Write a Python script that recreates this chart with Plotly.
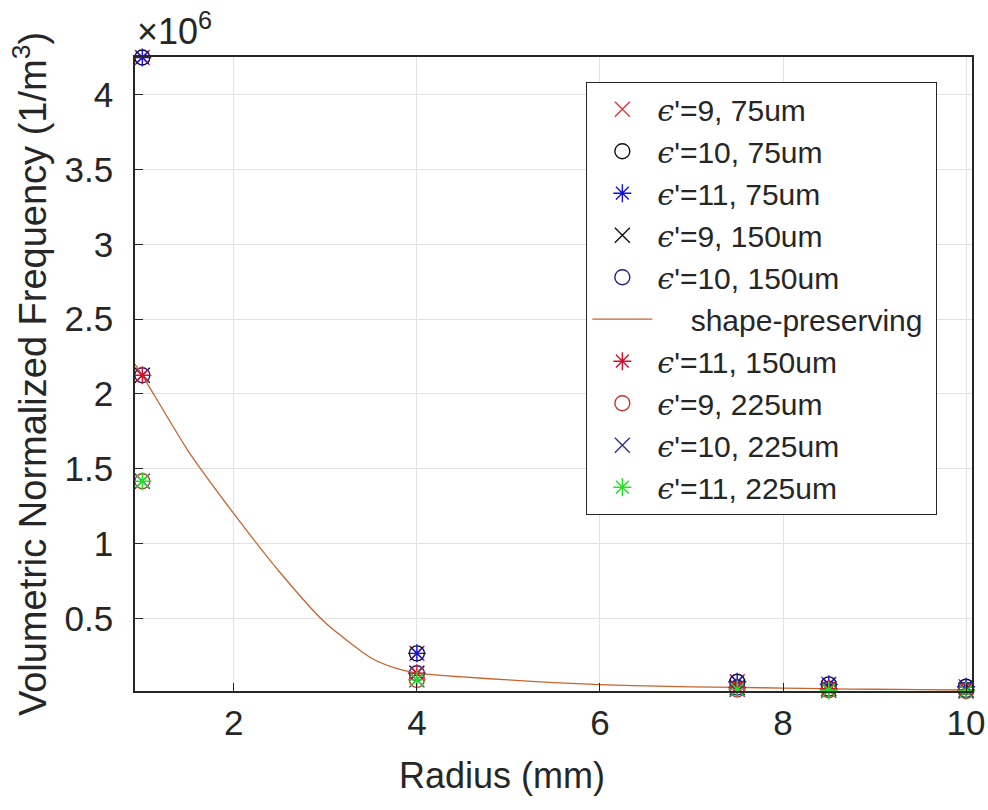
import plotly.graph_objects as go

# ---- data (values in units of 1e6 1/m^3) ----
radius = [1, 4, 7.5, 8.5, 10]

eps9_75 = [4.25, 0.266, 0.0756, 0.0588, 0.0425]
eps10_75 = [4.25, 0.266, 0.0756, 0.0588, 0.0425]
eps11_75 = [4.25, 0.266, 0.0756, 0.0588, 0.0425]
eps9_150 = [2.125, 0.133, 0.0378, 0.0294, 0.0213]
eps10_150 = [2.125, 0.133, 0.0378, 0.0294, 0.0213]
eps11_150 = [2.125, 0.133, 0.0378, 0.0294, 0.0213]
eps9_225 = [1.417, 0.0886, 0.0252, 0.0196, 0.0142]
eps10_225 = [1.417, 0.0886, 0.0252, 0.0196, 0.0142]
eps11_225 = [1.417, 0.0886, 0.0252, 0.0196, 0.0142]

# shape-preserving fit curve
fit_x = [0.92, 1, 1.5, 2, 2.5, 3, 3.5, 3.75, 4, 4.5, 5, 5.5, 6, 6.5, 7, 7.5, 8, 8.5, 9, 9.5, 10]
fit_y = [2.2, 2.125, 1.62, 1.2, 0.81, 0.47, 0.235, 0.17, 0.133, 0.108, 0.088, 0.07, 0.057,
         0.048, 0.042, 0.038, 0.034, 0.029, 0.026, 0.023, 0.021]

x_ticks = [2, 4, 6, 8, 10]
y_ticks = [0.5, 1, 1.5, 2, 2.5, 3, 3.5, 4]

FONT = "Liberation Sans, Arial, Helvetica, sans-serif"
EPS = "<span style='font-family:DejaVu Serif'><i>ϵ</i></span>"


def lab(e, t):
    return f"{EPS}'={e}, {t}um"


series = [
    (lab(9, 75), eps9_75, "x-thin-open", "#e8323c"),
    (lab(10, 75), eps10_75, "circle-open", "#111111"),
    (lab(11, 75), eps11_75, "asterisk-open", "#1010e0"),
    (lab(9, 150), eps9_150, "x-thin-open", "#111111"),
    (lab(10, 150), eps10_150, "circle-open", "#20208c"),
    None,
    (lab(11, 150), eps11_150, "asterisk-open", "#d4102c"),
    (lab(9, 225), eps9_225, "circle-open", "#c83030"),
    (lab(10, 225), eps10_225, "x-thin-open", "#303090"),
    (lab(11, 225), eps11_225, "asterisk-open", "#22e022"),
]

fig = go.Figure()
for s in series:
    if s is None:
        fig.add_trace(go.Scatter(
            x=fit_x, y=fit_y, mode="lines", name="    shape-preserving\u00a0",
            line=dict(color="#c8642e", width=1.3, shape="spline", smoothing=0.6),
        ))
        continue
    name, vals, sym, col = s
    fig.add_trace(go.Scatter(
        x=radius, y=vals, mode="markers", name=name, cliponaxis=False,
        marker=dict(symbol=sym, size=15, color=col, line=dict(color=col, width=1.4)),
    ))

axis_common = dict(
    showline=True, linecolor="#262626", linewidth=1.5, mirror=True,
    ticks="inside", ticklen=8, tickcolor="#262626", tickwidth=1.2,
    showgrid=True, gridcolor="#e2e2e2", gridwidth=1, zeroline=False,
    tickfont=dict(family=FONT, size=35, color="#262626"),
    ticklabeloverflow="allow", automargin=False,
)

fig.update_xaxes(
    range=[0.92, 10.065], tickvals=x_ticks, ticktext=[str(v) for v in x_ticks],
    ticklabelstandoff=0,
    **axis_common,
)
fig.update_yaxes(
    range=[0.0142, 4.253], tickvals=y_ticks, ticktext=[f"{v:g}" for v in y_ticks],
    title=dict(text="Volumetric Normalized Frequency (1/m<sup>3</sup>)",
               font=dict(family=FONT, size=38, color="#262626"), standoff=6),
    ticklabelstandoff=13,
    **axis_common,
)

# x-axis title (placed as in the reference, left of the plot centre)
fig.add_annotation(
    xref="paper", yref="paper", x=0.4385, y=0.0, xanchor="center", yanchor="middle",
    yshift=-84, text="Radius (mm)", showarrow=False,
    font=dict(family=FONT, size=36, color="#262626"),
)

fig.add_annotation(
    xref="paper", yref="paper", x=0.0, y=1.0, xanchor="left", yanchor="bottom",
    text="×10<sup>6</sup>", showarrow=False, yshift=3,
    font=dict(family=FONT, size=36, color="#262626"),
)

fig.update_layout(
    width=988, height=810,
    margin=dict(l=135, r=16, t=57, b=119, autoexpand=False),
    paper_bgcolor="white", plot_bgcolor="white",
    showlegend=True,
    legend=dict(
        x=0.539, y=0.9606, xanchor="left", yanchor="top",
        bgcolor="white", bordercolor="#262626", borderwidth=1.2,
        font=dict(family=FONT, size=30, color="#262626"),
        itemwidth=60, tracegroupgap=0,
    ),
)

fig.write_html("out.html")
